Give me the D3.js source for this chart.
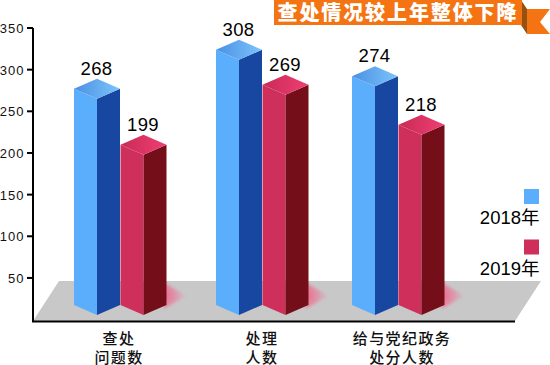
<!DOCTYPE html>
<html><head><meta charset="utf-8">
<script src="https://cdn.jsdelivr.net/npm/d3@7"></script>
<style>html,body{margin:0;padding:0;background:#fff}svg{display:block}</style></head>
<body><svg id="c" width="550" height="365"></svg>
<script>
const categories=[["查处","问题数"],["处理","人数"],["给与党纪政务","处分人数"]];
const years=["2018年","2019年"];
const labels2018=[268,308,274];
const labels2019=[199,269,218];
// bar tops as they read against the printed axis
const values2018=[265,312,280];
const values2019=[198,270,222];
const ticks=[50,100,150,200,250,300,350];
const title="查处情况较上年整体下降";

const svg=d3.select("#c");
const y=d3.scaleLinear().domain([0,350]).range([319.6,28]);
const x=d3.scaleOrdinal().domain([0,1,2]).range([74,216,352]);
const cjk="'Noto Sans CJK SC'",lat="'Liberation Sans',Arial,sans-serif";
const W=23,H=10,base=315,gap=46.5;
const defs=svg.append("defs");
function grad(id,a,b){const g=defs.append("linearGradient").attr("id",id).attr("x1",0).attr("x2",1).attr("y1",0).attr("y2",0);
 g.append("stop").attr("offset",0).attr("stop-color",a);g.append("stop").attr("offset",1).attr("stop-color",b);}
grad("topB","#4a90e4","#7cc4fb");grad("topR","#c92a55","#ee3f74");
const rg=defs.append("radialGradient").attr("id","glow").attr("cx",0).attr("cy",.5).attr("r",1);
rg.append("stop").attr("offset",0).attr("stop-color","#f0658c");rg.append("stop").attr("offset",1).attr("stop-color","#f0658c").attr("stop-opacity",0);
defs.append("filter").attr("id","soft").attr("x","-30%").attr("y","-30%").attr("width","160%").attr("height","160%").append("feGaussianBlur").attr("stdDeviation",1.5);

// floor
svg.append("path").attr("d",d3.line()([[59,281],[541,281],[515,321],[33,321]])+"Z").attr("fill","#c8c8c8");

// glow beside red bars
const series=[
 {vals:values2018,labs:labels2018,off:0,left:"#5aaefc",right:"#1847a2",top:"url(#topB)"},
 {vals:values2019,labs:labels2019,off:gap,left:"#cf2f5b",right:"#740e19",top:"url(#topR)"}];
x.domain().forEach(i=>{const X=x(i)+gap+2*W;
 svg.append("path").attr("d",d3.line()([[X-3,282],[X+20,296],[X-3,309]])+"Z").attr("fill","url(#glow)").attr("filter","url(#soft)");});

// axes
const ax=svg.append("g");
ax.append("path").attr("d",d3.line()([[33,y(350)],[33,321.5],[515,321.5]])).attr("fill","none").attr("stroke","#000").attr("stroke-width",2);
const tk=ax.selectAll("g.t").data(ticks).join("g").attr("class","t").attr("transform",d=>`translate(0,${y(d)})`);
tk.append("line").attr("x1",27).attr("x2",33).attr("stroke","#000").attr("stroke-width",2);
tk.append("text").text(d=>d).attr("x",24.5).attr("y",5).attr("text-anchor","end").attr("font-family",lat).attr("font-size",13).attr("letter-spacing",1).attr("fill","#111");

// bars
series.forEach(s=>{
 x.domain().forEach(i=>{
  const L=x(i)+s.off,M=L+W,R=M+W,t=y(s.vals[i]);
  const g=svg.append("g");
  g.append("path").attr("d",d3.line()([[L,t-10],[M,t],[M,base],[L,base-H]])+"Z").attr("fill",s.left);
  g.append("path").attr("d",d3.line()([[M,t],[R,t-10],[R,base-H],[M,base]])+"Z").attr("fill",s.right);
  g.append("path").attr("d",d3.line()([[L,t-10],[M,t-20],[R,t-10],[M,t]])+"Z").attr("fill",s.top);
  g.append("text").text(s.labs[i]).attr("x",M-.5).attr("y",t-24).attr("text-anchor","middle")
   .attr("font-family",lat).attr("font-size",18.5).attr("letter-spacing",.3).attr("fill","#000");
 });
});

// category labels
const cx=d3.scaleOrdinal().domain([0,1,2]).range([119,262,402]);
categories.forEach((c,i)=>c.forEach((t,j)=>{
 svg.append("text").text(t).attr("x",cx(i)).attr("y",344+j*19).attr("text-anchor","middle")
  .attr("font-family",cjk).attr("font-size",15).attr("font-weight",500).attr("letter-spacing",1.4).attr("fill","#111");
}));

// legend
const leg=d3.scaleOrdinal().domain(years).range([189,239.5]);
const legC=d3.scaleOrdinal().domain(years).range(["#5aaefc","#cf2f5b"]);
years.forEach(yr=>{
 svg.append("rect").attr("x",524).attr("y",leg(yr)).attr("width",15).attr("height",15).attr("fill",legC(yr));
 svg.append("text").text(yr).attr("x",539.5).attr("y",leg(yr)+35).attr("text-anchor","end").attr("font-family",lat+","+cjk).attr("font-size",18.5).attr("fill","#000");
});

// banner
svg.append("path").attr("d",d3.line()([[527,9],[550,9],[540,22],[550,34],[527,34]])+"Z").attr("fill","#f47413");
svg.append("path").attr("d",d3.line()([[521,0],[527,9],[527,34],[521,25]])+"Z").attr("fill","#96500f");
svg.append("rect").attr("x",274).attr("y",0).attr("width",248).attr("height",25).attr("fill","#f47413");
svg.append("text").text(title).attr("x",277.5).attr("y",20).attr("font-family",cjk).attr("font-weight",900).attr("font-size",20).attr("letter-spacing",1.9).attr("fill","#fff");
</script></body></html>
